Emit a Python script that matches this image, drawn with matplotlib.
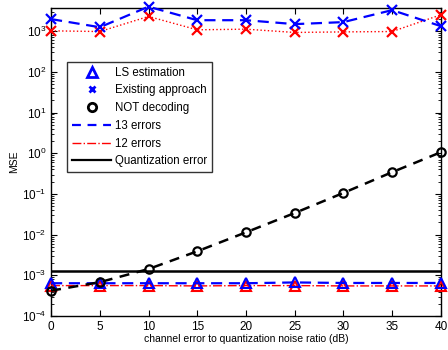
import matplotlib
matplotlib.use("Agg")
import matplotlib.pyplot as plt
from matplotlib.lines import Line2D

plt.rcParams["font.family"] = ["Liberation Sans", "DejaVu Sans"]
plt.rcParams["mathtext.fontset"] = "custom"
plt.rcParams["mathtext.rm"] = "Liberation Sans"
plt.rcParams["mathtext.it"] = "Liberation Sans:italic"

snr = [0, 5, 10, 15, 20, 25, 30, 35, 40]

# existing approach, 13 / 12 errors
existing_13 = [1980, 1250, 4000, 1860, 1860, 1490, 1670, 3290, 1330]
existing_12 = [1020, 980, 2300, 1080, 1120, 930, 960, 980, 2520]

# LS estimation, 13 / 12 errors
ls_13 = [6.4e-4, 6.4e-4, 6.4e-4, 6.4e-4, 6.4e-4, 6.7e-4, 6.5e-4, 6.5e-4, 6.5e-4]
ls_12 = [5.6e-4, 5.6e-4, 5.6e-4, 5.5e-4, 5.6e-4, 5.6e-4, 5.5e-4, 5.5e-4, 5.5e-4]

# NOT decoding
not_dec = [4.2e-4, 6.8e-4, 1.43e-3, 3.9e-3, 1.14e-2, 3.4e-2, 0.106, 0.343, 1.06]

quant_err = 1.3e-3

fig = plt.figure(figsize=(4.48, 3.5), dpi=100)
ax = fig.add_axes([0.114, 0.097, 0.870, 0.880])

ax.plot(snr, existing_12, ":", color="red", lw=1.0, marker="x", ms=7.5, mew=1.6, clip_on=False, zorder=3)
ax.plot(snr, existing_13, "--", color="blue", lw=1.6, marker="x", ms=7.5, mew=1.6, dashes=(5, 3), clip_on=False, zorder=4)
ax.plot(snr, ls_12, "-.", color="red", lw=1.0, marker="^", ms=7, mew=1.5, mfc="none", clip_on=False, zorder=3)
ax.plot(snr, ls_13, "--", color="blue", lw=1.6, marker="^", ms=7, mew=1.5, mfc="none", dashes=(5, 3), clip_on=False, zorder=4)
ax.plot(snr, not_dec, "--", color="black", lw=1.8, marker="o", ms=6, mew=1.6, mfc="none", dashes=(4, 3), clip_on=False, zorder=5)
ax.axhline(quant_err, color="black", lw=1.8, zorder=2)

ax.set_yscale("log")
ax.set_xlim(0, 40)
ax.set_ylim(1e-4, 3700)
ax.set_xticks(snr)
ax.set_yticks([1e-4, 1e-3, 1e-2, 1e-1, 1e0, 1e1, 1e2, 1e3])
ax.tick_params(which="both", direction="in", top=True, right=True, labelsize=8.5)
ax.tick_params(which="major", length=4)
ax.tick_params(which="minor", length=2)
for s in ax.spines.values():
    s.set_linewidth(1.0)

ax.set_xlabel("channel error to quantization noise ratio (dB)", fontsize=7.5, labelpad=1)
ax.set_ylabel("MSE", fontsize=7.5, labelpad=2)

handles = [
    Line2D([], [], ls="none", marker="^", color="blue", mfc="none", ms=7, mew=2),
    Line2D([], [], ls="none", marker="x", color="blue", ms=5, mew=2),
    Line2D([], [], ls="none", marker="o", color="black", mfc="none", ms=6, mew=2),
    Line2D([], [], ls="--", color="blue", lw=1.6, dashes=(4, 3)),
    Line2D([], [], ls="-.", color="red", lw=1.0),
    Line2D([], [], ls="-", color="black", lw=1.6),
]
labels = ["LS estimation", "Existing approach", "NOT decoding",
          "13 errors", "12 errors", "Quantization error"]
leg = ax.legend(handles, labels, loc="upper left", bbox_to_anchor=(0.042, 0.825),
                fontsize=8.3, frameon=True, fancybox=False, edgecolor="black",
                handlelength=3.4, handletextpad=0.3, labelspacing=0.5,
                borderpad=0.4, borderaxespad=0)
leg.get_frame().set_linewidth(1.0)

fig.savefig("out.png", dpi=100)
